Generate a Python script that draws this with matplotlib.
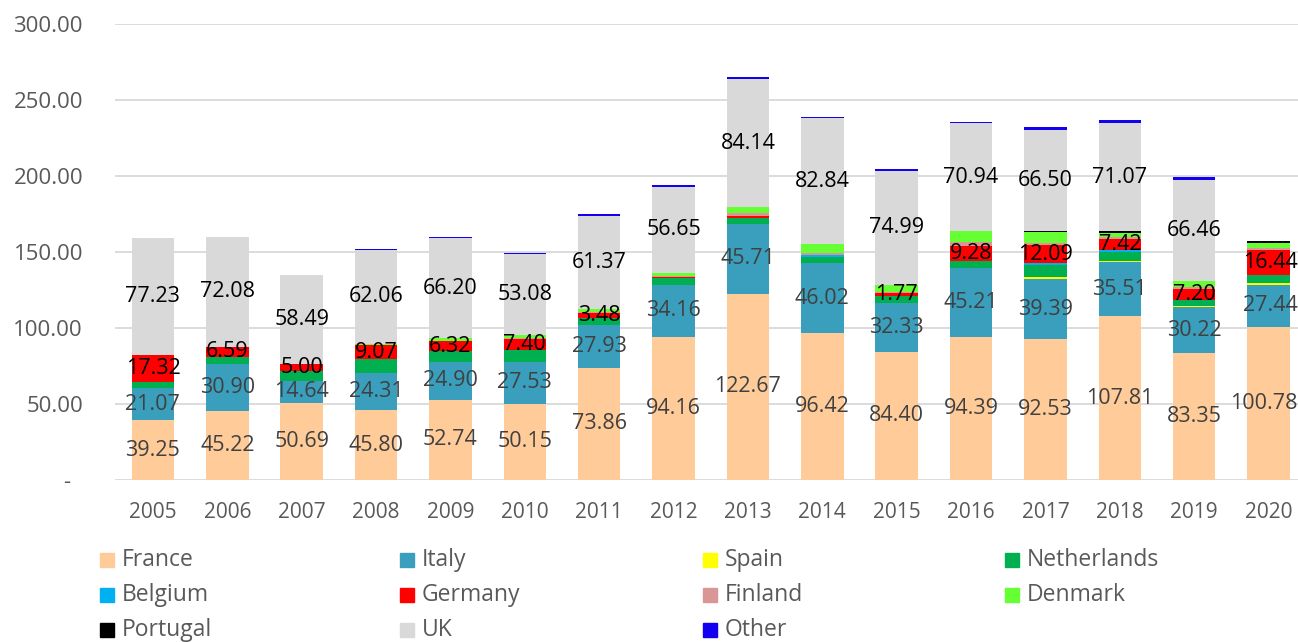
import numpy as np
import matplotlib
matplotlib.use("Agg")
import matplotlib.pyplot as plt
from matplotlib.patches import Rectangle
from matplotlib.ticker import FuncFormatter

plt.rcParams['font.family'] = ['Open Sans', 'DejaVu Sans']

years = ["2005", "2006", "2007", "2008", "2009", "2010", "2011", "2012",
         "2013", "2014", "2015", "2016", "2017", "2018", "2019", "2020"]

france = [39.25, 45.22, 50.69, 45.80, 52.74, 50.15, 73.86, 94.16,
          122.67, 96.42, 84.40, 94.39, 92.53, 107.81, 83.35, 100.78]
italy = [21.07, 30.90, 14.64, 24.31, 24.90, 27.53, 27.93, 34.16,
         45.71, 46.02, 32.33, 45.21, 39.39, 35.51, 30.22, 27.44]
spain = [0, 0, 0, 0, 0, 0, 0, 0, 0, 0, 0, 0, 1.5, 0.8, 1.2, 1.4]
netherlands = [4.4, 5.0, 6.2, 9.5, 7.2, 8.0, 4.5, 4.6,
               3.9, 4.2, 4.4, 4.8, 7.7, 5.7, 3.7, 5.0]
belgium = [0, 0, 0, 0, 0, 0, 0, 0, 0.4, 1.5, 0, 0, 1.5, 1.5, 0, 0]
germany = [17.32, 6.59, 5.00, 9.07, 6.32, 7.40, 3.48, 0.5,
           1.0, 0, 1.77, 9.28, 12.09, 7.42, 7.20, 16.44]
finland = [0, 0, 0, 0, 0.5, 0.5, 1.0, 0.5, 2.0, 1.0, 1.0, 2.8, 1.5, 1.0, 1.3, 1.5]
denmark = [0, 0, 0, 0.8, 1.5, 2.0, 1.5, 2.5, 3.8, 5.9, 4.4, 7.2, 7.0, 2.8, 4.0, 3.5]
portugal = [0, 0, 0, 0, 0, 0, 0, 0, 0, 0, 0, 0, 0.5, 1.2, 0, 1.0]
uk = [77.23, 72.08, 58.49, 62.06, 66.20, 53.08, 61.37, 56.65,
      84.14, 82.84, 74.99, 70.94, 66.50, 71.07, 66.46, 0]
other = [0, 0, 0, 0.6, 0.5, 1.0, 1.5, 1.2, 1.2, 1.0, 1.0, 1.0, 1.8, 1.8, 1.8, 0]

series = [
    ("France", france, "#FFCC99", "#404040", True),
    ("Italy", italy, "#3A9FBD", "#404040", True),
    ("Spain", spain, "#FFFF00", None, False),
    ("Netherlands", netherlands, "#00B050", None, False),
    ("Belgium", belgium, "#00B0F0", None, False),
    ("Germany", germany, "#FF0000", "#000000", True),
    ("Finland", finland, "#DA9694", None, False),
    ("Denmark", denmark, "#66FF33", None, False),
    ("Portugal", portugal, "#000000", None, False),
    ("UK", uk, "#D9D9D9", "#000000", True),
    ("Other", other, "#1400F0", None, False),
]

W, H = 1298, 642
fig = plt.figure(figsize=(W / 100, H / 100), dpi=100)
ax = fig.add_axes([115 / W, (H - 480) / H, 1190 / W, 456 / H])

x = np.arange(len(years))
bottom = np.zeros(len(years))
for name, vals, col, lcol, show in series:
    vals = np.array(vals, dtype=float)
    ax.bar(x, vals, 0.57, bottom=bottom, color=col, zorder=3)
    if show:
        for xi, b, v in zip(x, bottom, vals):
            if v < 1.5:
                continue
            # last column sits on the right edge, keep its label inside
            if xi == x[-1]:
                ax.text(xi + 0.39, b + v / 2, f"{v:.2f}", ha="right", va="center",
                        fontsize=15.5, color=lcol, zorder=4)
            else:
                ax.text(xi, b + v / 2, f"{v:.2f}", ha="center", va="center",
                        fontsize=15.5, color=lcol, zorder=4)
    bottom += vals

ax.set_xlim(-0.51, 15.49)
ax.set_ylim(0, 300)
ax.set_yticks(np.arange(0, 301, 50))
ax.yaxis.set_major_formatter(FuncFormatter(lambda v, p: "-  " if v == 0 else f"{v:.2f}"))
ax.set_xticks(x)
ax.set_xticklabels(years)
ax.tick_params(axis="y", length=0, pad=23, labelsize=16, labelcolor="#595959")
ax.tick_params(axis="x", length=0, pad=16, labelsize=15, labelcolor="#595959")
ax.grid(axis="y", color="#D9D9D9", linewidth=1.3, zorder=0)
for s in ax.spines.values():
    s.set_visible(False)

# legend, laid out row by row like the original
col_x = [100, 400, 703, 1005]
row_y = [560, 595, 630]
for i, (name, vals, col, lcol, show) in enumerate(series):
    cx = col_x[i % 4]
    cy = row_y[i // 4]
    fig.add_artist(Rectangle((cx / W, (H - cy - 7) / H), 14 / W, 14 / H,
                             transform=fig.transFigure, color=col))
    fig.text((cx + 22) / W, (H - cy) / H, name, ha="left", va="center",
             fontsize=16.5, color="#595959")

fig.savefig("out.png", dpi=100)
